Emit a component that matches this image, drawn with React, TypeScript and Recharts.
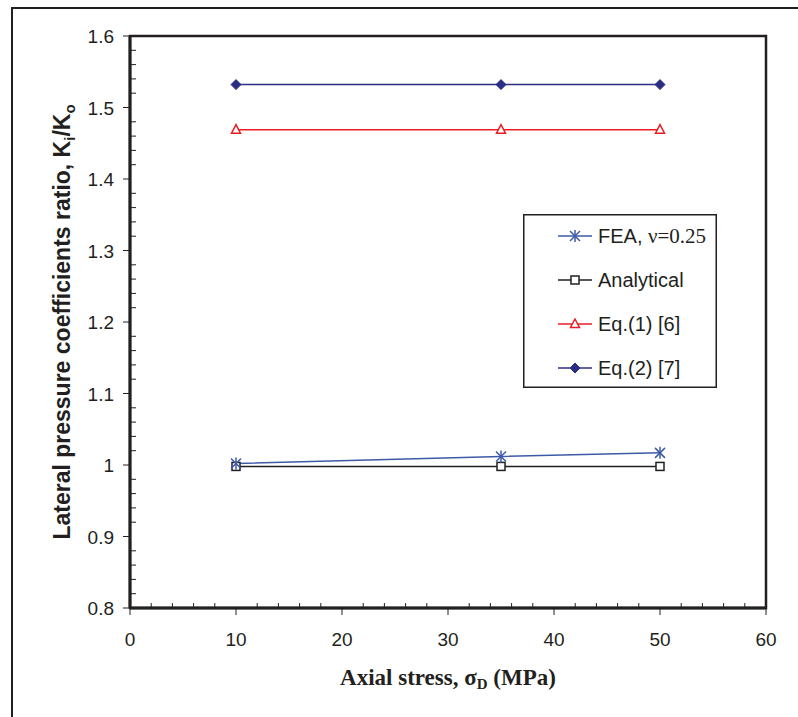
import * as React from "react";
import {
  ComposedChart,
  Line,
  XAxis,
  YAxis,
  ReferenceArea,
} from "recharts";

// values
const stress = [10, 35, 50];
const fea = [1.002, 1.012, 1.017];
const analytical = [0.998, 0.998, 0.998];
const eq1 = [1.469, 1.469, 1.469];
const eq2 = [1.532, 1.532, 1.532];

const xMajorTicks = [0, 10, 20, 30, 40, 50, 60];
const yMajorTicks = [0.8, 0.9, 1, 1.1, 1.2, 1.3, 1.4, 1.5, 1.6];

// minor ticks every 2 MPa / 0.02
const xTicks: number[] = [];
for (let i = 0; i <= 30; i++) xTicks.push(i * 2);
const yTicks: number[] = [];
for (let i = 0; i <= 40; i++) yTicks.push(Math.round((0.8 + i * 0.02) * 100) / 100);

const data = stress.map((s, i) => ({
  stress: s,
  fea: fea[i],
  analytical: analytical[i],
  eq1: eq1[i],
  eq2: eq2[i],
}));

const INK = "#231f20";
const BLUE = "#3d5aa9";
const RED = "#ed1c24";
const NAVY = "#2b2e83";
const SANS = "'Liberation Sans', Arial, sans-serif";
const SERIF = "'Liberation Serif', 'Times New Roman', serif";

const isMajor = (v: number, majors: number[]) =>
  majors.some((m) => Math.abs(m - v) < 1e-6);

const XTick = (props: any) => {
  const { x, y, payload } = props;
  const v = payload?.value;
  if (isMajor(v, xMajorTicks)) {
    return (
      <g>
        <line x1={x} y1={y} x2={x} y2={y + 7} stroke={INK} strokeWidth={1} />
        <text x={x} y={y + 38} textAnchor="middle" fill={INK} fontSize={19} fontFamily={SANS}>
          {v}
        </text>
      </g>
    );
  }
  return <line x1={x} y1={y} x2={x} y2={y - 5} stroke={INK} strokeWidth={1} />;
};

const YTick = (props: any) => {
  const { x, y, payload } = props;
  const v = payload?.value;
  if (isMajor(v, yMajorTicks)) {
    return (
      <g>
        <line x1={x - 7} y1={y} x2={x} y2={y} stroke={INK} strokeWidth={1} />
        <text x={x - 16} y={y + 7} textAnchor="end" fill={INK} fontSize={19} fontFamily={SANS}>
          {String(v)}
        </text>
      </g>
    );
  }
  return <line x1={x} y1={y} x2={x + 6} y2={y} stroke={INK} strokeWidth={1} />;
};

const Star = (props: any) => {
  const { cx, cy, color, size = 5 } = props;
  if (cx == null || cy == null) return null;
  return (
    <g stroke={color} strokeWidth={1.5}>
      <line x1={cx - size} y1={cy - size} x2={cx + size} y2={cy + size} />
      <line x1={cx - size} y1={cy + size} x2={cx + size} y2={cy - size} />
      <line x1={cx} y1={cy - size - 1} x2={cx} y2={cy + size + 1} />
    </g>
  );
};

const Square = (props: any) => {
  const { cx, cy, color } = props;
  if (cx == null || cy == null) return null;
  return <rect x={cx - 4} y={cy - 4} width={8} height={8} fill="#fff" stroke={color} strokeWidth={1.5} />;
};

const Triangle = (props: any) => {
  const { cx, cy, color } = props;
  if (cx == null || cy == null) return null;
  return (
    <polygon
      points={`${cx},${cy - 5} ${cx + 4.5},${cy + 3.5} ${cx - 4.5},${cy + 3.5}`}
      fill="#fff"
      stroke={color}
      strokeWidth={1.5}
    />
  );
};

const Diamond = (props: any) => {
  const { cx, cy, color } = props;
  if (cx == null || cy == null) return null;
  return (
    <polygon
      points={`${cx},${cy - 5} ${cx + 5},${cy} ${cx},${cy + 5} ${cx - 5},${cy}`}
      fill={color}
      stroke={color}
      strokeWidth={1}
    />
  );
};

const legendItems = [
  { key: "fea", color: BLUE, Marker: Star },
  { key: "analytical", color: INK, Marker: Square },
  { key: "eq1", color: RED, Marker: Triangle },
  { key: "eq2", color: NAVY, Marker: Diamond },
];

const LegendLabel = ({ k }: { k: string }) => {
  if (k === "fea") {
    return (
      <>
        <tspan fontFamily={SANS}>FEA, </tspan>
        <tspan fontFamily={SERIF} fontSize={21}>ν=0.25</tspan>
      </>
    );
  }
  if (k === "analytical") return <tspan>Analytical</tspan>;
  if (k === "eq1") return <tspan>Eq.(1) [6]</tspan>;
  return <tspan>Eq.(2) [7]</tspan>;
};

const ChartLegend = () => (
  <svg
    width={194}
    height={174}
    style={{ position: "absolute", left: 523, top: 214, overflow: "visible" }}
  >
    <rect x={0.75} y={0.75} width={192.5} height={172.5} fill="#fff" stroke={INK} strokeWidth={1.5} />
    {legendItems.map((it, i) => {
      const cy = 22 + i * 44;
      const M = it.Marker;
      return (
        <g key={it.key}>
          <line x1={35} y1={cy} x2={69} y2={cy} stroke={it.color} strokeWidth={1.5} />
          <M cx={52} cy={cy} color={it.color} size={5} />
          <text x={75} y={cy + 7} fontSize={20} fontFamily={SANS} fill={INK}>
            <LegendLabel k={it.key} />
          </text>
        </g>
      );
    })}
  </svg>
);

const XTitle = () => (
  <text x={448} y={685} textAnchor="middle" fill={INK} fontFamily={SERIF} fontWeight="bold" fontSize={23}>
    Axial stress, σ
    <tspan fontSize={15} dy={4}>D</tspan>
    <tspan dy={-4}> (MPa)</tspan>
  </text>
);

const YTitle = () => (
  <text
    x={70}
    y={322}
    transform="rotate(-90, 70, 322)"
    textAnchor="middle"
    fill={INK}
    fontFamily={SANS}
    fontWeight="bold"
    fontSize={23}
  >
    Lateral pressure coefficients ratio, K
    <tspan fontSize={15} dy={5}>i</tspan>
    <tspan dy={-5}>/K</tspan>
    <tspan fontSize={15} dy={5}>o</tspan>
  </text>
);

export default function App() {
  return (
    <div
      style={{
        position: "absolute",
        left: 0,
        top: 0,
        width: 798,
        height: 717,
        overflow: "hidden",
        background: "#fff",
      }}
    >
      <div
        style={{
          position: "absolute",
          left: 11,
          top: 7,
          width: 900,
          height: 900,
          border: `2.5px solid ${INK}`,
        }}
      />
      <ComposedChart
        width={798}
        height={717}
        data={data}
        margin={{ top: 36, right: 32, bottom: 69, left: 60 }}
        style={{ position: "absolute", left: 0, top: 0 }}
      >
        <XAxis
          dataKey="stress"
          type="number"
          domain={[0, 60]}
          ticks={xTicks}
          interval={0}
          tickSize={0}
          tickMargin={0}
          tickLine={false}
          height={40}
          axisLine={{ stroke: INK, strokeWidth: 3 }}
          tick={<XTick />}
          label={{ content: () => <XTitle /> }}
        />
        <YAxis
          type="number"
          domain={[0.8, 1.6]}
          ticks={yTicks}
          interval={0}
          tickSize={0}
          tickMargin={0}
          tickLine={false}
          width={70}
          allowDataOverflow
          axisLine={{ stroke: INK, strokeWidth: 3 }}
          tick={<YTick />}
          label={{ content: () => <YTitle /> }}
        />
        <ReferenceArea
          x1={0}
          x2={60}
          y1={0.8}
          y2={1.6}
          fill="none"
          stroke={INK}
          strokeWidth={2.5}
          ifOverflow="visible"
        />
        <Line
          dataKey="eq2"
          stroke={NAVY}
          strokeWidth={1.5}
          isAnimationActive={false}
          dot={(p: any) => <Diamond key={`d2-${p.index}`} cx={p.cx} cy={p.cy} color={NAVY} />}
        />
        <Line
          dataKey="eq1"
          stroke={RED}
          strokeWidth={1.5}
          isAnimationActive={false}
          dot={(p: any) => <Triangle key={`d1-${p.index}`} cx={p.cx} cy={p.cy} color={RED} />}
        />
        <Line
          dataKey="analytical"
          stroke={INK}
          strokeWidth={1.5}
          isAnimationActive={false}
          dot={(p: any) => <Square key={`an-${p.index}`} cx={p.cx} cy={p.cy} color={INK} />}
        />
        <Line
          dataKey="fea"
          stroke={BLUE}
          strokeWidth={1.5}
          isAnimationActive={false}
          dot={(p: any) => <Star key={`fe-${p.index}`} cx={p.cx} cy={p.cy} color={BLUE} size={5} />}
        />
      </ComposedChart>
      <ChartLegend />
    </div>
  );
}
